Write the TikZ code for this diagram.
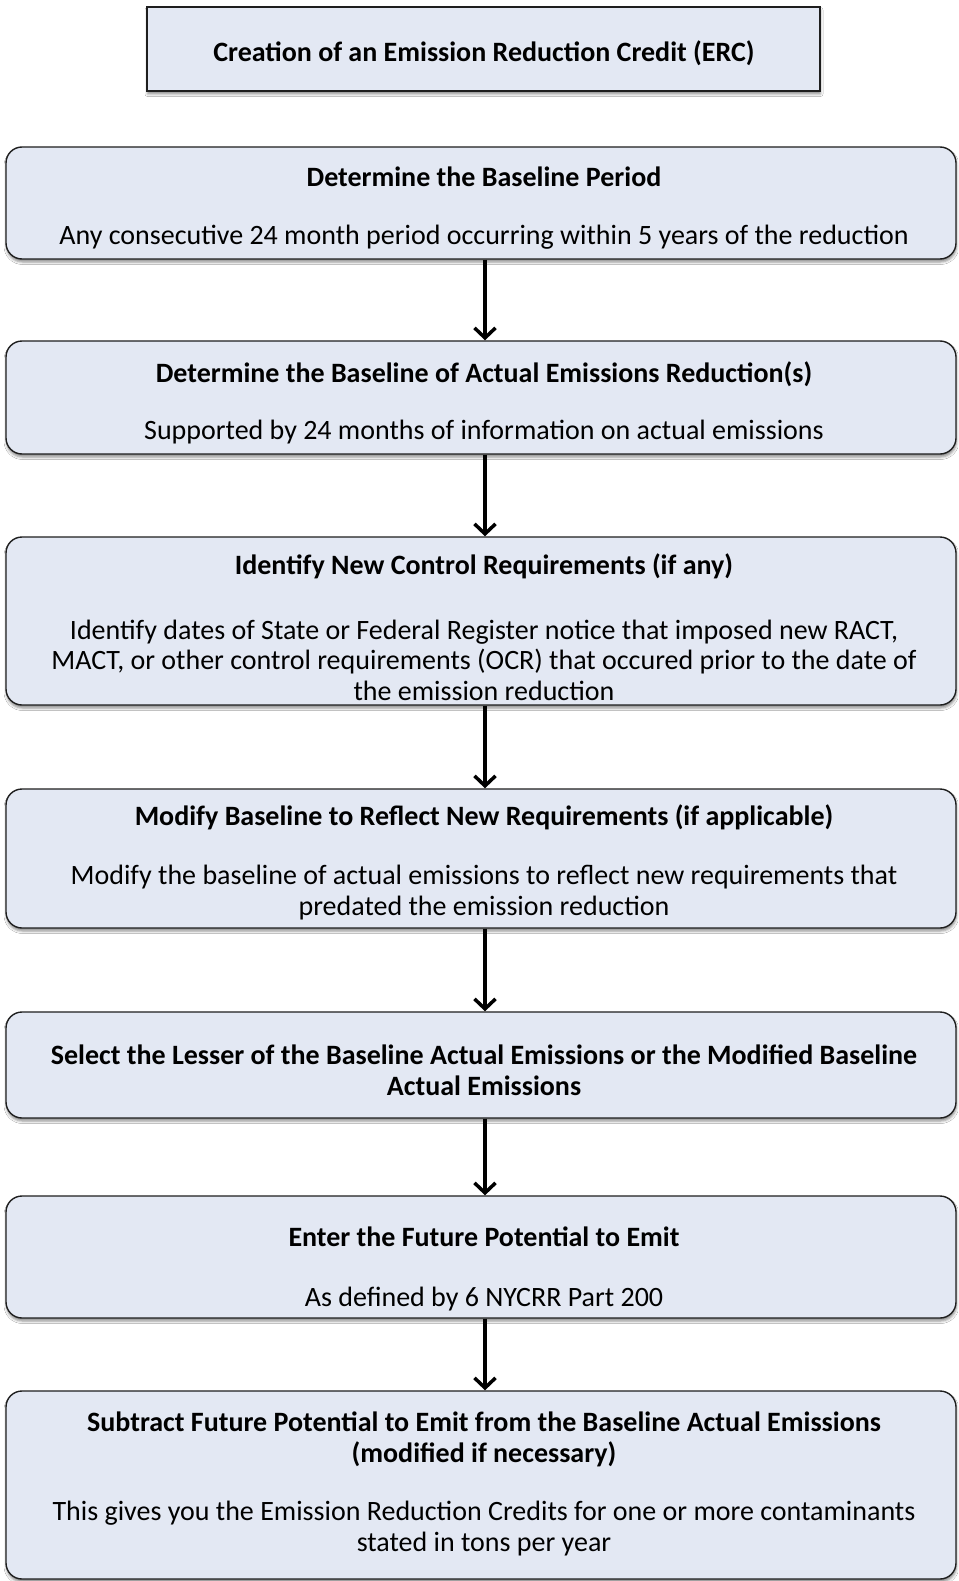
\documentclass[tikz,border=0pt]{standalone}
\usepackage{fontspec}
\setmainfont{Carlito}
\usetikzlibrary{arrows.meta,shadows.blur}
\definecolor{boxfill}{RGB}{227,232,243}
\definecolor{boxline}{RGB}{30,30,30}
\begin{document}
\begin{tikzpicture}[x=1pt,y=-1pt,
  shad/.style={blur shadow={shadow xshift=0.5pt, shadow yshift=-3pt, shadow blur radius=2.5pt, shadow opacity=45}},
  stepbox/.style={draw=boxline, line width=1.4pt, fill=boxfill, rounded corners=16pt, minimum width=950pt, inner sep=0pt, shad},
  titlebox/.style={draw=boxline, line width=1.4pt, fill=boxfill, minimum width=673pt, minimum height=84pt, inner sep=0pt, shad},
  txt/.style={align=center, font=\fontsize{28}{30.5}\selectfont, inner sep=0pt},
  flow/.style={line width=3.5pt, draw=black, -{Straight Barb[length=10pt,width=21pt]}},
]
\path[use as bounding box] (0,0) rectangle (958,1581);
\fill[white] (0,0) rectangle (958,1581);

% boxes
\node[titlebox] (t) at (483.5,49) {};
\node[stepbox, minimum height=112pt] (b1) at (481,203) {};
\node[stepbox, minimum height=113pt] (b2) at (481,397.5) {};
\node[stepbox, minimum height=168pt] (b3) at (481,621) {};
\node[stepbox, minimum height=139pt] (b4) at (481,858.5) {};
\node[stepbox, minimum height=106pt] (b5) at (481,1065) {};
\node[stepbox, minimum height=122pt] (b6) at (481,1257) {};
\node[stepbox, minimum height=188pt] (b7) at (481,1485) {};

% texts
\node[txt] (tt) at (484,53) {\textbf{Creation of an Emission Reduction Credit (ERC)}};
\node[txt] (t1) at (484,208) {\textbf{Determine the Baseline Period}\\[28pt]Any consecutive 24 month period occurring within 5 years of the reduction};
\node[txt] (t2) at (484,403) {\textbf{Determine the Baseline of Actual Emissions Reduction(s)}\\[27pt]Supported by 24 months of information on actual emissions};
\node[txt] (t3) at (484,627) {\textbf{Identify New Control Requirements (if any)}\\[34pt]Identify dates of State or Federal Register notice that imposed new RACT,\\MACT, or other control requirements (OCR) that occured prior to the date of\\the emission reduction};
\node[txt] (t4) at (484,862) {\textbf{Modify Baseline to Reflect New Requirements (if applicable)}\\[29pt]Modify the baseline of actual emissions to reflect new requirements that\\predated the emission reduction};
\node[txt] (t5) at (484,1070) {\textbf{Select the Lesser of the Baseline Actual Emissions or the Modified Baseline}\\\textbf{Actual Emissions}};
\node[txt] (t6) at (484,1269) {\textbf{Enter the Future Potential to Emit}\\[29pt]As defined by 6 NYCRR Part 200};
\node[txt] (t7) at (484,1484) {\textbf{Subtract Future Potential to Emit from the Baseline Actual Emissions}\\\textbf{(modified if necessary)}\\[28pt]This gives you the Emission Reduction Credits for one or more contaminants\\stated in tons per year};

% connectors
\draw[flow] ([xshift=4pt]b1.south) -- ([xshift=4pt]b2.north);
\draw[flow] ([xshift=4pt]b2.south) -- ([xshift=4pt]b3.north);
\draw[flow] ([xshift=4pt]b3.south) -- ([xshift=4pt]b4.north);
\draw[flow] ([xshift=4pt]b4.south) -- ([xshift=4pt]b5.north);
\draw[flow] ([xshift=4pt]b5.south) -- ([xshift=4pt]b6.north);
\draw[flow] ([xshift=4pt]b6.south) -- ([xshift=4pt]b7.north);
\end{tikzpicture}
\end{document}
